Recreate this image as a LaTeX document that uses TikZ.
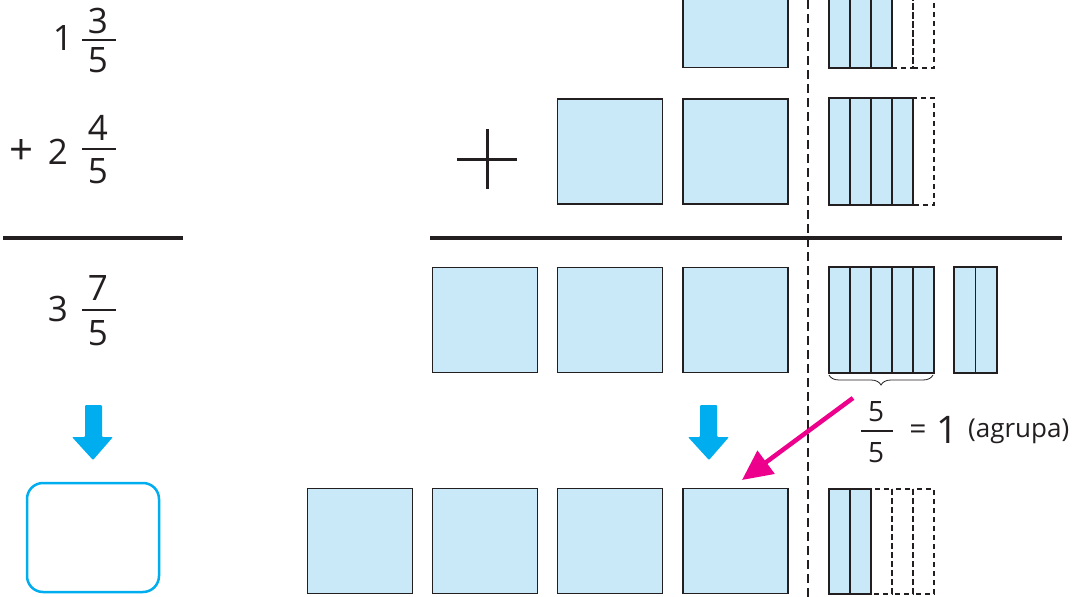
\documentclass[tikz,border=0pt]{standalone}
\usepackage{fontspec}
\setmainfont{Open Sans}
\usetikzlibrary{arrows.meta,decorations.pathreplacing}
\definecolor{tilefill}{HTML}{C9E9F9}
\definecolor{inkline}{HTML}{231F20}
\definecolor{cyanarrow}{HTML}{00AEEF}
\definecolor{pinkarrow}{HTML}{EC008C}
\tikzset{
  tile/.style={draw=inkline,fill=tilefill,line width=1.5pt,minimum size=105pt,inner sep=0pt,outer sep=0pt},
  strip/.style={draw=inkline,fill=tilefill,line width=1.5pt},
  ghost/.style={draw=inkline,line width=1.3pt,dash pattern=on 5pt off 4pt},
  rule/.style={draw=inkline,line width=4pt},
  digit/.style={inner sep=0pt,font=\fontsize{35}{35}\selectfont,text=inkline},
  smalltxt/.style={inner sep=0pt,font=\fontsize{26}{26}\selectfont,text=inkline},
  bluearrow/.style={fill=cyanarrow,rounded corners=1pt},
}
\newcommand{\strips}[4]{% x0, ytop, ybottom, count
  \foreach \k in {1,...,#4}{
    \draw[strip] ({#1+21*(\k-1)},#2) rectangle ({#1+21*\k},#3);
  }}
\newcommand{\ghosts}[4]{% from index, ytop, ybottom, to index
  \foreach \k in {#1,...,#4}{
    \draw[ghost] ({829+21*(\k-1)},#2) rectangle ({829+21*\k},#3);
  }}
\begin{document}
\begin{tikzpicture}[x=1pt,y=-1pt]
\useasboundingbox (0,0) rectangle (1088,597);
\fill[white] (0,0) rectangle (1088,597);

% ---------- left column ----------
\node[digit] (one) at (63,38) {1};
\node[digit] (n1) at (98,21) {3};
\draw[inkline,line width=1.8pt] (82,40) -- (116,40);
\node[digit] (d1) at (98,60) {5};

\node[digit,font=\fontsize{42}{42}\selectfont] (plusL) at (22,152) {+};
\node[digit] (two) at (58,152) {2};
\node[digit] (n2) at (98,128) {4};
\draw[inkline,line width=1.8pt] (82,149) -- (116,149);
\node[digit] (d2) at (98,171) {5};

\draw[rule] (3,238) -- (183,238);

\node[digit] (three) at (58,309) {3};
\node[digit] (n3) at (98,288) {7};
\draw[inkline,line width=1.8pt] (82,310) -- (116,310);
\node[digit] (d3) at (98,333) {5};

\fill[bluearrow] (85,405) -- (102,405) -- (102,437) -- (113,437) -- (93,460) -- (72,437) -- (85,437) -- cycle;
\node[draw=cyanarrow,line width=2.5pt,rounded corners=16pt,minimum width=132pt,minimum height=109pt,inner sep=0pt] (answer) at (93,537.5) {};

% ---------- right part ----------
\draw[inkline,line width=1.8pt,dash pattern=on 9pt off 5pt] (808,0) -- (808,597);

% row 1
\node[tile] (a1) at (735.5,15) {};
\strips{829}{-40}{68}{3}
\ghosts{4}{-40}{68}{5}

% row 2
\draw[inkline,line width=3pt] (457,159) -- (517,159);
\draw[inkline,line width=3pt] (487,129) -- (487,189);
\node[tile] (b1) at (610,151.5) {};
\node[tile] (b2) at (735.5,151.5) {};
\strips{829}{98}{205}{4}
\ghosts{5}{98}{205}{5}

\draw[rule] (430,238) -- (1062,238);

% row 3
\node[tile] (c1) at (485,320) {};
\node[tile] (c2) at (610,320) {};
\node[tile] (c3) at (735.5,320) {};
\strips{829}{267}{373}{5}
\foreach \k in {1,2}{
  \draw[strip] ({954+21.5*(\k-1)},267) rectangle ({954+21.5*\k},373);
}
\draw[inkline,line width=0.8pt,decorate,decoration={brace,amplitude=10pt,mirror,raise=2pt}] (829,373) -- (933,373);

\node[inner sep=0pt,font=\fontsize{28}{28}\selectfont,text=inkline] (fn) at (876,412) {5};
\draw[inkline,line width=1.6pt] (861,431) -- (893,431);
\node[inner sep=0pt,font=\fontsize{28}{28}\selectfont,text=inkline] (fd) at (876,453) {5};
\node[inner sep=0pt,font=\fontsize{30}{30}\selectfont,text=inkline] (eq) at (918,432) {=};
\node[inner sep=0pt,font=\fontsize{38}{38}\selectfont,text=inkline] (onebig) at (947,430) {1};
\node[smalltxt,anchor=west] (agrupa) at (968,431) {(agrupa)};

% row 4
\node[tile] (e1) at (360,541) {};
\node[tile] (e2) at (485,541) {};
\node[tile] (e3) at (610,541) {};
\node[tile] (e4) at (735.5,541) {};
\strips{829}{489}{594}{2}
\ghosts{3}{489}{594}{5}

\fill[bluearrow] (700,405) -- (717,405) -- (717,437) -- (729,437) -- (709,460) -- (688,437) -- (700,437) -- cycle;

\coordinate (pinkstart) at (853,398);
\coordinate (pinkend) at (742,480);
\draw[pinkarrow,line width=4.5pt,-{Triangle[length=30pt,width=28pt]}] (pinkstart) -- (pinkend);
\end{tikzpicture}
\end{document}
